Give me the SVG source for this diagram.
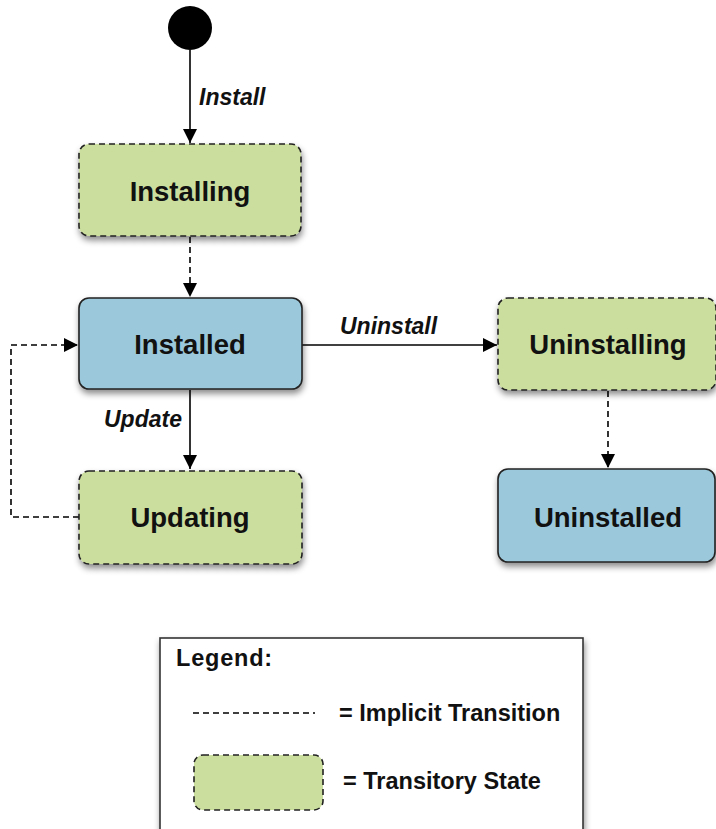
<svg xmlns="http://www.w3.org/2000/svg" width="716" height="829" viewBox="0 0 716 829">
<defs>
<filter id="sh" x="-10%" y="-10%" width="125%" height="140%">
<feDropShadow dx="1" dy="4" stdDeviation="3" flood-color="#000" flood-opacity="0.45"/>
</filter>
<marker id="ah" markerWidth="14" markerHeight="14" refX="14" refY="7" orient="auto" markerUnits="userSpaceOnUse">
<path d="M0,0 L14,7 L0,14 Z" fill="#000"/>
</marker>
</defs>
<style>
.green{fill:#cbde9d;stroke:#222;stroke-width:1.6;stroke-dasharray:6 4}
.blue{fill:#9bc9db;stroke:#222;stroke-width:1.6}
.name{font-family:"Liberation Sans",Arial,sans-serif;font-weight:bold;font-size:27.5px;fill:#111;text-anchor:middle}
.lbl{font-family:"Liberation Sans",Arial,sans-serif;font-weight:bold;font-style:italic;font-size:23px;fill:#111}
.leg{font-family:"Liberation Sans",Arial,sans-serif;font-weight:bold;font-size:23.5px;fill:#111}
.solid{fill:none;stroke:#000;stroke-width:1.6}
.dash{fill:none;stroke:#000;stroke-width:1.6;stroke-dasharray:6 4}
</style>
<rect width="716" height="829" fill="#fff"/>

<g id="connectors">
<line class="solid" x1="190" y1="50" x2="190" y2="143" marker-end="url(#ah)"/>
<line class="dash" x1="190" y1="237" x2="190" y2="297" marker-end="url(#ah)"/>
<line class="solid" x1="302" y1="345" x2="497" y2="345" marker-end="url(#ah)"/>
<line class="solid" x1="190" y1="390" x2="190" y2="469" marker-end="url(#ah)"/>
<polyline class="dash" points="79,517 11,517 11,345 78,345" marker-end="url(#ah)"/>
<line class="dash" x1="608" y1="391" x2="608" y2="468" marker-end="url(#ah)"/>
<text class="lbl" x="199" y="105">Install</text>
<text class="lbl" x="340" y="334">Uninstall</text>
<text class="lbl" x="104" y="427">Update</text>
</g>

<g id="start">
<circle cx="190" cy="28" r="22" fill="#000"/>
</g>

<g id="installing">
<rect class="green" x="79" y="144" width="222" height="92" rx="10" filter="url(#sh)"/>
<text class="name" x="190" y="201">Installing</text>
</g>

<g id="installed">
<rect class="blue" x="79" y="298" width="223" height="91" rx="10" filter="url(#sh)"/>
<text class="name" x="190" y="354">Installed</text>
</g>

<g id="updating">
<rect class="green" x="79" y="471" width="223" height="93" rx="10" filter="url(#sh)"/>
<text class="name" x="190" y="527">Updating</text>
</g>

<g id="uninstalling">
<rect class="green" x="498" y="298" width="218" height="92" rx="10" filter="url(#sh)"/>
<text class="name" x="608" y="354">Uninstalling</text>
</g>

<g id="uninstalled">
<rect class="blue" x="498" y="469" width="217" height="93" rx="10" filter="url(#sh)"/>
<text class="name" x="608" y="527">Uninstalled</text>
</g>

<g id="legend">
<rect x="160" y="638" width="423" height="200" fill="#fff" stroke="#333" stroke-width="1.6" filter="url(#sh)"/>
<text class="leg" x="176" y="666" font-size="26.5" letter-spacing="0.8">Legend:</text>
<line class="dash" x1="193" y1="713" x2="315" y2="713"/>
<text class="leg" x="339" y="721">= Implicit Transition</text>
<rect class="green" x="194" y="755" width="129" height="55" rx="9"/>
<text class="leg" x="343" y="789">= Transitory State</text>
</g>
</svg>
